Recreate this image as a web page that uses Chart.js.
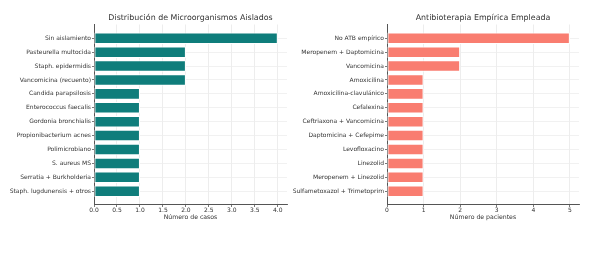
<!DOCTYPE html>
<html>
<head>
<meta charset="utf-8">
<script src="https://cdn.jsdelivr.net/npm/chart.js@4.4.1/dist/chart.umd.min.js"></script>
<style>
  html, body { margin: 0; padding: 0; background: #ffffff; }
  #wrap { position: relative; width: 600px; height: 264px; overflow: hidden; background: #fff; }
  .box { position: absolute; top: 0; height: 264px; }
  #b1 { left: 0; width: 300px; }
  #b2 { left: 280px; width: 320px; }
</style>
</head>
<body>
<div id="wrap">
  <div class="box" id="b1"><canvas id="c1" width="300" height="264"></canvas></div>
  <div class="box" id="b2"><canvas id="c2" width="320" height="264"></canvas></div>
</div>
<script>
// ---- data ----
const microTitle = 'Distribución de Microorganismos Aislados';
const microAxisTitle = 'Número de casos';
const microCategories = [
  'Sin aislamiento',
  'Pasteurella multocida',
  'Staph. epidermidis',
  'Vancomicina (recuento)',
  'Candida parapsilosis',
  'Enterococcus faecalis',
  'Gordonia bronchialis',
  'Propionibacterium acnes',
  'Polimicrobiano',
  'S. aureus MS',
  'Serratia + Burkholderia',
  'Staph. lugdunensis + otros'
];
const microValues = [4, 2, 2, 2, 1, 1, 1, 1, 1, 1, 1, 1];
const microTickValues = [0, 0.5, 1, 1.5, 2, 2.5, 3, 3.5, 4];
const microTickLabels = ['0.0', '0.5', '1.0', '1.5', '2.0', '2.5', '3.0', '3.5', '4.0'];

const atbTitle = 'Antibioterapia Empírica Empleada';
const atbAxisTitle = 'Número de pacientes';
const atbCategories = [
  'No ATB empírico',
  'Meropenem + Daptomicina',
  'Vancomicina',
  'Amoxicilina',
  'Amoxicilina-clavulánico',
  'Cefalexina',
  'Ceftriaxona + Vancomicina',
  'Daptomicina + Cefepime',
  'Levofloxacino',
  'Linezolid',
  'Meropenem + Linezolid',
  'Sulfametoxazol + Trimetoprim'
];
const atbValues = [5, 2, 2, 1, 1, 1, 1, 1, 1, 1, 1, 1];
const atbTickValues = [0, 1, 2, 3, 4, 5];
const atbTickLabels = ['0', '1', '2', '3', '4', '5'];

// ---- chart builder ----
const FONT = "'DejaVu Sans', sans-serif";
const TXT = '#333333';

function makeChart(canvasId, cfg) {
  const n = cfg.categories.length;
  const pad = 0.05 * (n - 1 + 0.8);
  const points = cfg.categories.map((c, i) => ({ x: cfg.values[i], y: i }));
  return new Chart(document.getElementById(canvasId), {
    type: 'bar',
    data: {
      datasets: [{
        data: points,
        backgroundColor: cfg.color,
        borderColor: '#ffffff',
        borderWidth: 1,
        borderSkipped: false,
        barPercentage: 0.83,
        categoryPercentage: 1.0
      }]
    },
    options: {
      indexAxis: 'y',
      responsive: false,
      animation: false,
      devicePixelRatio: 1,
      layout: { padding: { left: 0, right: cfg.padRight, top: 0, bottom: 43 } },
      plugins: {
        legend: { display: false },
        tooltip: { enabled: false },
        title: {
          display: true,
          text: cfg.title,
          fullSize: false,
          color: TXT,
          font: { family: FONT, size: 7.9, weight: 'normal' },
          padding: { top: 13, bottom: 2 }
        }
      },
      scales: {
        x: {
          type: 'linear',
          min: 0,
          max: cfg.xMax,
          offset: false,
          afterBuildTicks: s => { s.ticks = cfg.tickValues.map(v => ({ value: v })); },
          afterFit: s => { s.height = 16; },
          ticks: {
            color: TXT,
            font: { family: FONT, size: 6 },
            padding: 0,
            maxRotation: 0,
            autoSkip: false,
            callback: (v, i) => cfg.tickLabels[i]
          },
          grid: { color: '#e8e8e8', lineWidth: 0.8, tickLength: 2, tickColor: '#555', offset: false },
          border: { display: true, color: '#555555', width: 1 },
          title: {
            display: true,
            text: cfg.axisTitle,
            color: TXT,
            font: { family: FONT, size: 6.2 },
            padding: { top: 0, bottom: 0 }
          }
        },
        y: {
          type: 'linear',
          reverse: true,
          offset: false,
          min: -0.4 - pad,
          max: n - 0.6 + pad,
          afterBuildTicks: s => { s.ticks = cfg.categories.map((c, i) => ({ value: i })); },
          afterFit: s => { s.width = cfg.yWidth; },
          ticks: {
            color: TXT,
            font: { family: FONT, size: 6 },
            padding: 1,
            autoSkip: false,
            callback: (v) => cfg.categories[v]
          },
          grid: { color: '#eeeeee', lineWidth: 0.8, tickLength: 2, tickColor: '#555', offset: false },
          border: { display: true, color: '#555555', width: 1 }
        }
      }
    }
  });
}

makeChart('c1', {
  title: microTitle, axisTitle: microAxisTitle,
  categories: microCategories, values: microValues,
  tickValues: microTickValues, tickLabels: microTickLabels,
  xMax: 4.2, color: '#0f7d7b', yWidth: 94, padRight: 13
});
makeChart('c2', {
  title: atbTitle, axisTitle: atbAxisTitle,
  categories: atbCategories, values: atbValues,
  tickValues: atbTickValues, tickLabels: atbTickLabels,
  xMax: 5.25, color: '#f97d70', yWidth: 107, padRight: 21
});
</script>
</body>
</html>
